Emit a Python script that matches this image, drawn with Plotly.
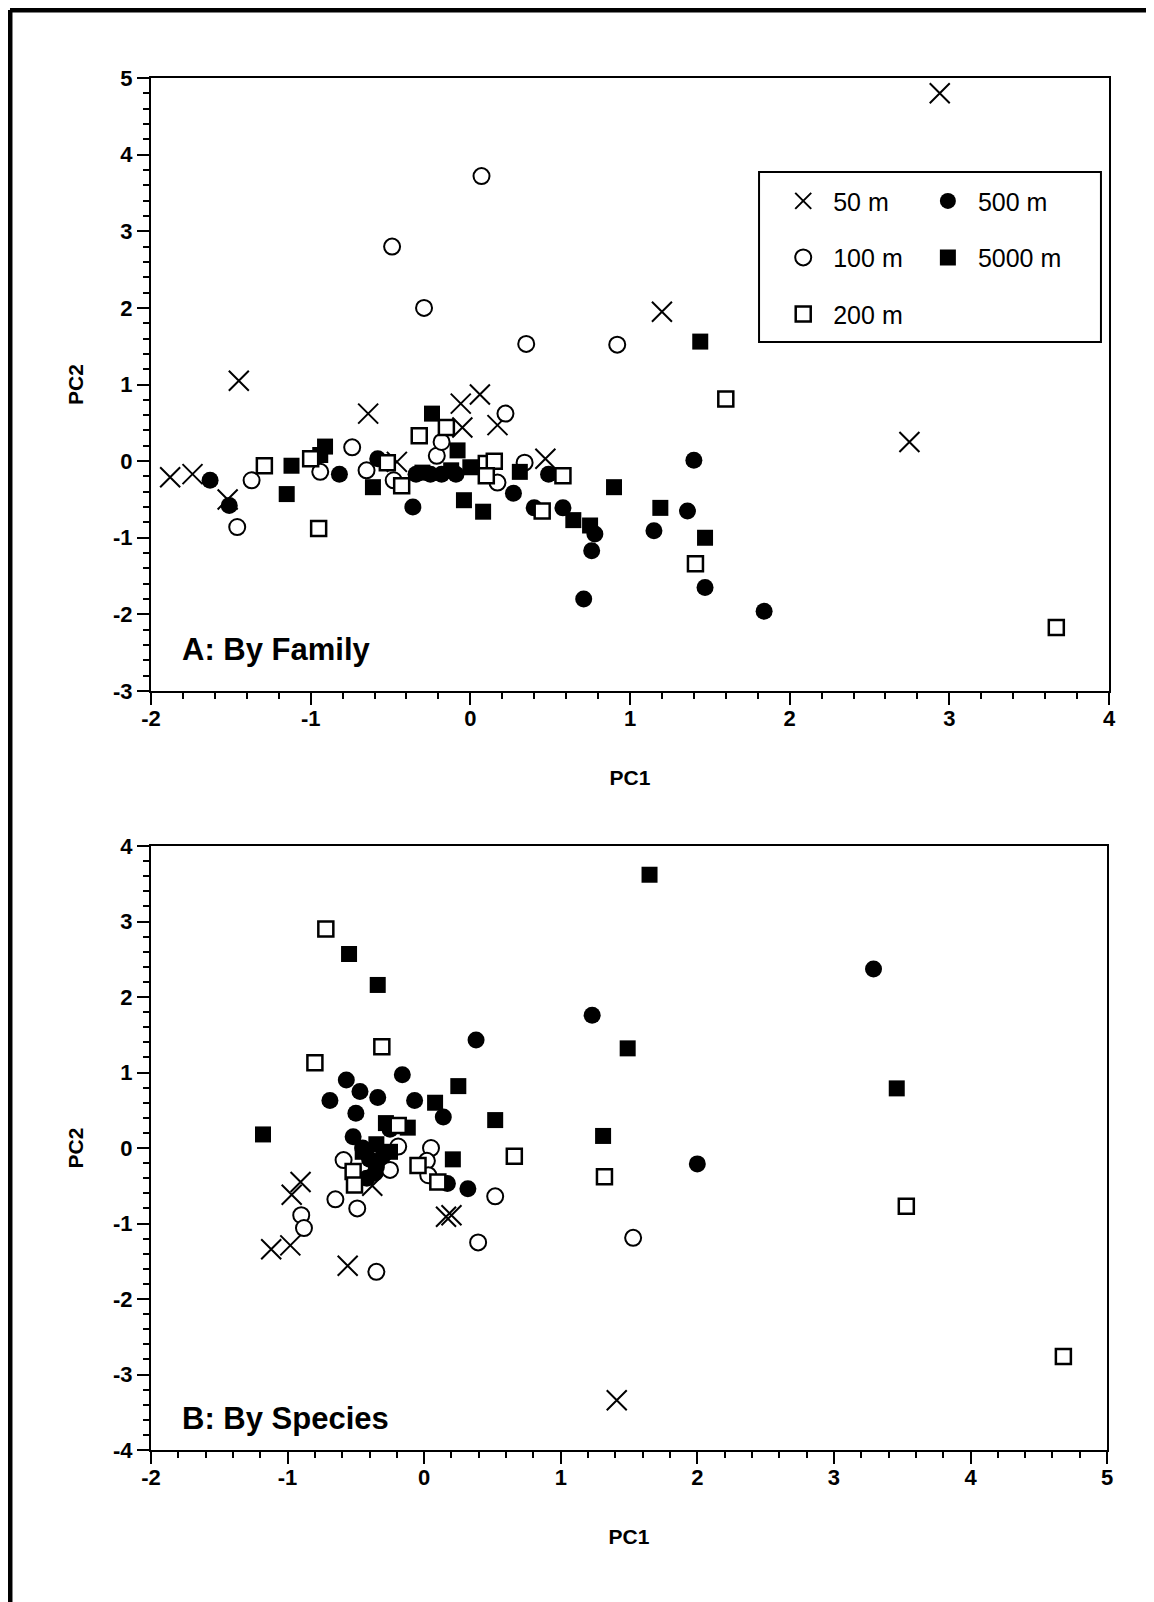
import plotly.graph_objects as go

# ---- data: PCA scores, panel A (by family) ----
fam_50_x = [-1.88, -1.74, -1.45, -1.52, -0.64, -0.46, -0.06, 0.06, -0.05, 0.17, 0.47, 1.20, 2.94, 2.75]
fam_50_y = [-0.21, -0.17, 1.05, -0.50, 0.62, -0.01, 0.75, 0.87, 0.44, 0.47, 0.03, 1.95, 4.80, 0.25]

fam_100_x = [0.07, -0.49, -0.29, 0.35, 0.92, -1.37, -1.46, -0.74, -0.94, -0.65, -0.48, -0.21, -0.18, 0.22, 0.17, 0.34]
fam_100_y = [3.72, 2.80, 2.00, 1.53, 1.52, -0.25, -0.86, 0.18, -0.14, -0.12, -0.25, 0.07, 0.25, 0.62, -0.28, -0.02]

fam_200_x = [-1.29, -1.00, -0.95, -0.52, -0.43, -0.32, -0.15, 0.10, 0.15, 0.10, 0.58, 0.45, 1.60, 1.41, 3.67]
fam_200_y = [-0.06, 0.03, -0.88, -0.02, -0.32, 0.33, 0.44, -0.03, 0.00, -0.19, -0.19, -0.65, 0.81, -1.34, -2.17]

fam_500_x = [-1.63, -1.51, -0.82, -0.58, -0.36, -0.34, -0.25, -0.18, -0.09, 0.27, 0.40, 0.49, 0.58,
             0.78, 0.76, 0.71, 1.15, 1.36, 1.40, 1.47, 1.84]
fam_500_y = [-0.25, -0.58, -0.17, 0.03, -0.60, -0.17, -0.17, -0.17, -0.17, -0.42, -0.61, -0.17, -0.61,
             -0.95, -1.17, -1.80, -0.91, -0.65, 0.01, -1.65, -1.96]

fam_5000_x = [-1.15, -1.12, -0.91, -0.94, -0.61, -0.24, -0.08, 0.00, -0.04, 0.08, 0.31, 0.645, 0.75,
              0.90, 1.19, 1.44, 1.47, -0.12, -0.30]
fam_5000_y = [-0.43, -0.06, 0.19, 0.08, -0.34, 0.62, 0.14, -0.08, -0.51, -0.66, -0.14, -0.77, -0.84,
              -0.34, -0.61, 1.56, -1.00, -0.12, -0.15]

# ---- data: PCA scores, panel B (by species) ----
sp_50_x = [-0.905, -0.97, -1.12, -0.98, -0.56, 0.16, 0.20, -0.38, 1.41]
sp_50_y = [-0.45, -0.62, -1.34, -1.29, -1.56, -0.91, -0.89, -0.50, -3.34]

sp_100_x = [-0.90, -0.88, -0.65, -0.49, -0.35, 0.395, 0.52, -0.59, -0.19, 0.05, 0.02, 0.03, -0.25, 1.53]
sp_100_y = [-0.89, -1.06, -0.68, -0.80, -1.64, -1.25, -0.64, -0.16, 0.02, 0.00, -0.17, -0.36, -0.29, -1.19]

sp_200_x = [-0.72, -0.80, -0.31, -0.045, 0.10, 0.66, -0.52, -0.51, 1.32, 3.53, 4.68, -0.19]
sp_200_y = [2.90, 1.13, 1.34, -0.23, -0.45, -0.11, -0.31, -0.49, -0.38, -0.77, -2.76, 0.30]

sp_500_x = [-0.69, -0.57, -0.47, -0.34, -0.16, -0.07, 0.14, 0.38, -0.50, -0.52, 0.17, 0.32, -0.45,
            -0.40, -0.30, -0.35, -0.42, -0.36, -0.25, 1.23, 2.00, 3.29]
sp_500_y = [0.63, 0.90, 0.75, 0.67, 0.97, 0.63, 0.41, 1.43, 0.46, 0.15, -0.47, -0.54, 0.00,
            -0.15, -0.10, -0.25, -0.40, -0.33, 0.25, 1.76, -0.21, 2.37]

sp_5000_x = [-1.18, -0.55, -0.34, 0.25, 0.52, 0.08, 0.21, -0.12, -0.28, -0.45, -0.35, -0.25, 1.65, 1.49, 1.31, 3.46]
sp_5000_y = [0.18, 2.57, 2.16, 0.82, 0.37, 0.60, -0.15, 0.27, 0.33, -0.05, 0.05, -0.05, 3.62, 1.32, 0.16, 0.79]

# ---- tick labels ----
top_x_ticks = [-2, -1, 0, 1, 2, 3, 4]
top_y_ticks = [-3, -2, -1, 0, 1, 2, 3, 4, 5]
bot_x_ticks = [-2, -1, 0, 1, 2, 3, 4, 5]
bot_y_ticks = [-4, -3, -2, -1, 0, 1, 2, 3, 4]

# marker styles per depth
styles = {
    '50 m': dict(symbol='x-thin-open', size=20, color='black', line=dict(width=2, color='black')),
    '100 m': dict(symbol='circle', size=16, color='white', line=dict(width=2, color='black')),
    '500 m': dict(symbol='circle', size=17, color='black', line=dict(width=0)),
    '5000 m': dict(symbol='square', size=16, color='black', line=dict(width=0)),
    '200 m': dict(symbol='square', size=15, color='white', line=dict(width=2.5, color='black')),
}
legend_for = {'50 m': 'legend', '100 m': 'legend', '200 m': 'legend', '500 m': 'legend2', '5000 m': 'legend2'}
legend_rank = {'50 m': 1, '100 m': 2, '200 m': 3, '500 m': 1, '5000 m': 2}

top = {'50 m': (fam_50_x, fam_50_y), '100 m': (fam_100_x, fam_100_y), '500 m': (fam_500_x, fam_500_y),
       '5000 m': (fam_5000_x, fam_5000_y), '200 m': (fam_200_x, fam_200_y)}
bot = {'50 m': (sp_50_x, sp_50_y), '100 m': (sp_100_x, sp_100_y), '500 m': (sp_500_x, sp_500_y),
       '5000 m': (sp_5000_x, sp_5000_y), '200 m': (sp_200_x, sp_200_y)}

fig = go.Figure()
for name, (xs, ys) in top.items():
    fig.add_trace(go.Scatter(x=xs, y=ys, mode='markers', name=name, marker=styles[name],
                             legend=legend_for[name], legendgroup=name, legendrank=legend_rank[name],
                             xaxis='x', yaxis='y'))
for name, (xs, ys) in bot.items():
    fig.add_trace(go.Scatter(x=xs, y=ys, mode='markers', name=name, marker=styles[name],
                             legendgroup=name, showlegend=False, xaxis='x2', yaxis='y2'))

tick_font = dict(family='Liberation Sans Narrow, Liberation Sans, Arial', size=22, color='black', weight='bold')
title_font = dict(family='Liberation Sans, Arial', size=21, color='black', weight='bold')
label_font = dict(family='Liberation Sans Narrow, Liberation Sans, Arial', size=31, color='black', weight='bold')
legend_font = dict(family='Liberation Sans, Arial', size=25, color='black')

common = dict(showline=True, linewidth=2, linecolor='black', mirror=True, showgrid=False, zeroline=False,
              ticks='outside', ticklen=12, tickwidth=1.5, tickcolor='black', tickfont=tick_font,
              minor=dict(dtick=0.2, ticks='outside', ticklen=6, tickwidth=1.5, tickcolor='black', showgrid=False))

fig.update_layout(
    width=1154, height=1602,
    margin=dict(l=143, r=53, t=70, b=160),
    plot_bgcolor='white', paper_bgcolor='white',
    xaxis=dict(domain=[0, 1], range=[-2, 4], anchor='y', tickvals=top_x_ticks,
               ticktext=[str(v) for v in top_x_ticks], ticklabelstandoff=-5,
               title=dict(text='PC1', font=title_font, standoff=40), **common),
    yaxis=dict(domain=[0.5532, 1], range=[-3, 5], anchor='x', tickvals=top_y_ticks,
               ticktext=[str(v) for v in top_y_ticks],
               title=dict(text='PC2', font=title_font, standoff=24), **common),
    xaxis2=dict(domain=[0, 0.998], range=[-2, 5], anchor='y2', tickvals=bot_x_ticks,
                ticktext=[str(v) for v in bot_x_ticks], ticklabelstandoff=-5,
                title=dict(text='PC1', font=title_font, standoff=40), **common),
    yaxis2=dict(domain=[0, 0.4402], range=[-4, 4], anchor='x2', tickvals=bot_y_ticks,
                ticktext=[str(v) for v in bot_y_ticks],
                title=dict(text='PC2', font=title_font, standoff=24), **common),
    legend=dict(x=0.6495, y=0.927, xanchor='left', yanchor='top', bgcolor='rgba(0,0,0,0)',
                font=legend_font, itemwidth=50,
                traceorder='grouped', tracegroupgap=21, itemsizing='trace'),
    legend2=dict(x=0.8005, y=0.927, xanchor='left', yanchor='top', bgcolor='rgba(0,0,0,0)',
                 font=legend_font, itemwidth=50,
                 traceorder='grouped', tracegroupgap=21, itemsizing='trace'),
    annotations=[
        dict(text='A: By Family', xref='x domain', yref='y domain', x=0.03, y=0.067,
             xanchor='left', yanchor='middle', showarrow=False, font=label_font),
        dict(text='B: By Species', xref='x2 domain', yref='y2 domain', x=0.03, y=0.052,
             xanchor='left', yanchor='middle', showarrow=False, font=label_font),
    ],
    shapes=[
        # legend frame
        dict(type='rect', xref='x domain', yref='y domain', x0=0.6347, x1=0.9916, y0=0.5693, y1=0.8467,
             line=dict(color='black', width=2)),
        # outer page frame (left and top edges)
        dict(type='line', xref='paper', yref='paper', x0=-0.1472, x1=-0.1472, y0=-0.13, y1=1.0495,
             line=dict(color='black', width=5)),
        dict(type='line', xref='paper', yref='paper', x0=-0.1472, x1=1.07, y0=1.0495, y1=1.0495,
             line=dict(color='black', width=5)),
    ],
)

fig.write_html("out.html")
